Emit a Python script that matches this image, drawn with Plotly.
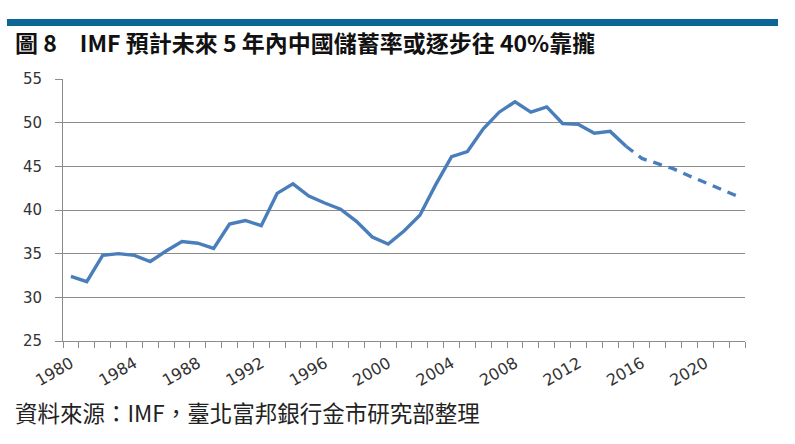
import plotly.graph_objects as go

# ---- data ----
hist_years = list(range(1980, 2016))
hist_values = [32.4, 31.8, 34.8, 35.0, 34.8, 34.1, 35.3, 36.4, 36.2, 35.6,
               38.4, 38.8, 38.2, 41.9, 43.0, 41.6, 40.8, 40.1, 38.7, 36.9,
               36.1, 37.6, 39.4, 42.9, 46.1, 46.7, 49.3, 51.2, 52.4, 51.2,
               51.8, 49.9, 49.8, 48.8, 49.0, 47.3]
fcst_years = list(range(2015, 2023))
fcst_values = [47.3, 45.9, 45.3, 44.7, 43.9, 43.1, 42.4, 41.6]
tick_years = list(range(1980, 2021, 4))
y_ticks = [25, 30, 35, 40, 45, 50, 55]

title_text = "圖 8　IMF 預計未來 5 年內中國儲蓄率或逐步往 40%靠攏"
source_text = "資料來源：IMF，臺北富邦銀行金市研究部整理"

# ---- layout geometry (pixels) ----
W, H = 795, 444
L, R, T, B = 63, 50, 79, 103
PW, PH = W - L - R, H - T - B

def px(x):
    return (x - L) / PW

def py(y):
    return 1 - (y - T) / PH

line_color = "#4a7ebb"
grid_color = "#8c8c8c"

fig = go.Figure()
fig.add_trace(go.Scatter(x=hist_years, y=hist_values, mode="lines",
                         line=dict(color=line_color, width=3.4),
                         showlegend=False, hoverinfo="skip"))
fig.add_trace(go.Scatter(x=fcst_years, y=fcst_values, mode="lines",
                         line=dict(color=line_color, width=3.4, dash="9px,7px"),
                         showlegend=False, hoverinfo="skip"))

fig.update_layout(
    width=W, height=H,
    margin=dict(l=L, r=R, t=T, b=B, pad=0),
    paper_bgcolor="white", plot_bgcolor="white",
    font=dict(family="DejaVu Sans", color="#333333"),
    xaxis=dict(range=[1979.5, 2022.5], tickmode="array", tickvals=tick_years,
               ticktext=[str(y) for y in tick_years], tickangle=-30,
               ticks="", showgrid=False, zeroline=False,
               showline=True, linecolor=grid_color, linewidth=1,
               tickfont=dict(size=16, color="#333333"), ticklabelstandoff=6,
               minor=dict(tickmode="linear", tick0=1979.5, dtick=1,
                          ticks="outside", ticklen=6, tickcolor=grid_color,
                          tickwidth=1, showgrid=False)),
    yaxis=dict(range=[25, 55], tickmode="array", tickvals=y_ticks,
               ticks="outside", ticklen=7, tickcolor=grid_color,
               showgrid=True, gridcolor=grid_color, gridwidth=1,
               zeroline=False, showline=True, linecolor=grid_color, linewidth=1,
               tickfont=dict(size=15, color="#333333"), ticklabelstandoff=10),
)

# top blue band
fig.add_shape(type="rect", xref="paper", yref="paper",
              x0=px(7), x1=px(778), y0=py(26), y1=py(19),
              fillcolor="#0b6595", line=dict(width=0), layer="above")

fig.add_annotation(text="<b>" + title_text + "</b>", xref="paper", yref="paper",
                   x=px(13), y=py(42), xanchor="left", yanchor="middle",
                   showarrow=False,
                   font=dict(family="Noto Sans CJK TC", size=23, color="#111111"))
fig.add_annotation(text=source_text, xref="paper", yref="paper",
                   x=px(13), y=py(412), xanchor="left", yanchor="middle",
                   showarrow=False,
                   font=dict(family="Noto Sans CJK TC", size=22.5, color="#222222"))

fig.write_html("out.html")
